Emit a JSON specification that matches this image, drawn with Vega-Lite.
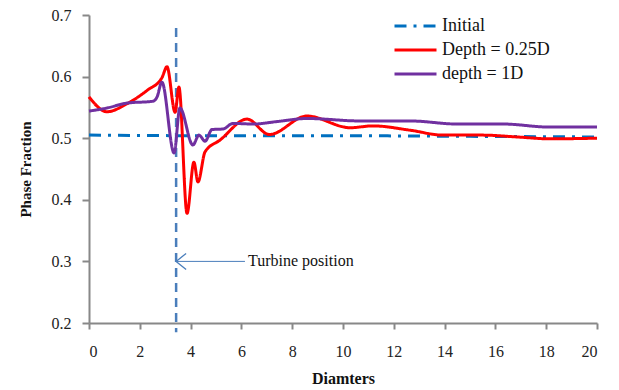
{
  "$schema": "https://vega.github.io/schema/vega-lite/v6.json",
  "width": 508,
  "height": 308,
  "autosize": "none",
  "padding": {"left": 89, "top": 15, "right": 22, "bottom": 67},
  "background": "white",
  "config": {
    "view": {"stroke": null},
    "font": "Liberation Serif, Times New Roman, serif"
  },
  "datasets": {
    "series": [
      {"x": 0, "y": 0.505, "s": "Initial"},
      {"x": 5, "y": 0.504, "s": "Initial"},
      {"x": 10, "y": 0.504, "s": "Initial"},
      {"x": 15, "y": 0.503, "s": "Initial"},
      {"x": 20, "y": 0.502, "s": "Initial"},

      {"x": 0, "y": 0.567, "s": "Depth = 0.25D"},
      {"x": 0.71, "y": 0.543, "s": "Depth = 0.25D"},
      {"x": 1.5, "y": 0.556, "s": "Depth = 0.25D"},
      {"x": 2.3, "y": 0.578, "s": "Depth = 0.25D"},
      {"x": 2.87, "y": 0.598, "s": "Depth = 0.25D"},
      {"x": 3.07, "y": 0.616, "s": "Depth = 0.25D"},
      {"x": 3.39, "y": 0.542, "s": "Depth = 0.25D"},
      {"x": 3.54, "y": 0.583, "s": "Depth = 0.25D"},
      {"x": 3.86, "y": 0.378, "s": "Depth = 0.25D"},
      {"x": 4.13, "y": 0.461, "s": "Depth = 0.25D"},
      {"x": 4.29, "y": 0.429, "s": "Depth = 0.25D"},
      {"x": 4.57, "y": 0.478, "s": "Depth = 0.25D"},
      {"x": 5.16, "y": 0.497, "s": "Depth = 0.25D"},
      {"x": 6.22, "y": 0.531, "s": "Depth = 0.25D"},
      {"x": 7.1, "y": 0.506, "s": "Depth = 0.25D"},
      {"x": 8.58, "y": 0.536, "s": "Depth = 0.25D"},
      {"x": 10.28, "y": 0.517, "s": "Depth = 0.25D"},
      {"x": 11.18, "y": 0.52, "s": "Depth = 0.25D"},
      {"x": 12.64, "y": 0.513, "s": "Depth = 0.25D"},
      {"x": 13.94, "y": 0.505, "s": "Depth = 0.25D"},
      {"x": 15.5, "y": 0.505, "s": "Depth = 0.25D"},
      {"x": 16.85, "y": 0.502, "s": "Depth = 0.25D"},
      {"x": 18.15, "y": 0.499, "s": "Depth = 0.25D"},
      {"x": 20, "y": 0.5, "s": "Depth = 0.25D"},

      {"x": 0, "y": 0.544, "s": "depth = 1D"},
      {"x": 0.7, "y": 0.549, "s": "depth = 1D"},
      {"x": 1.5, "y": 0.557, "s": "depth = 1D"},
      {"x": 2.52, "y": 0.56, "s": "depth = 1D"},
      {"x": 2.68, "y": 0.567, "s": "depth = 1D"},
      {"x": 2.87, "y": 0.591, "s": "depth = 1D"},
      {"x": 3.35, "y": 0.476, "s": "depth = 1D"},
      {"x": 3.58, "y": 0.549, "s": "depth = 1D"},
      {"x": 4.09, "y": 0.489, "s": "depth = 1D"},
      {"x": 4.33, "y": 0.505, "s": "depth = 1D"},
      {"x": 4.57, "y": 0.495, "s": "depth = 1D"},
      {"x": 4.84, "y": 0.514, "s": "depth = 1D"},
      {"x": 5.28, "y": 0.515, "s": "depth = 1D"},
      {"x": 5.67, "y": 0.524, "s": "depth = 1D"},
      {"x": 6.46, "y": 0.523, "s": "depth = 1D"},
      {"x": 7.4, "y": 0.527, "s": "depth = 1D"},
      {"x": 8.58, "y": 0.532, "s": "depth = 1D"},
      {"x": 10.67, "y": 0.528, "s": "depth = 1D"},
      {"x": 12.64, "y": 0.528, "s": "depth = 1D"},
      {"x": 14.5, "y": 0.523, "s": "depth = 1D"},
      {"x": 16.3, "y": 0.523, "s": "depth = 1D"},
      {"x": 18.15, "y": 0.518, "s": "depth = 1D"},
      {"x": 20, "y": 0.518, "s": "depth = 1D"}
    ],
    "turbine": [{"x": 3.43, "y": 0.679, "y2": 0.185}],
    "arrow": [{"x": 3.43, "x2": 6.14, "y": 0.3, "label": "Turbine position", "tx": 6.26}]
  },
  "layer": [
    {
      "data": {"name": "turbine"},
      "mark": {"type": "rule", "color": "#4a7ebb", "strokeWidth": 2.5, "strokeDash": [9, 6], "clip": false},
      "encoding": {
        "x": {"field": "x", "type": "quantitative", "scale": {"domain": [0, 20], "nice": false}},
        "y": {"field": "y", "type": "quantitative", "scale": {"domain": [0.2, 0.7], "nice": false}},
        "y2": {"field": "y2"}
      }
    },
    {
      "data": {"name": "series"},
      "mark": {"type": "line", "interpolate": "monotone", "strokeWidth": 3},
      "encoding": {
        "x": {
          "field": "x", "type": "quantitative",
          "scale": {"domain": [0, 20], "nice": false},
          "axis": {
            "title": "Diamters", "values": [0, 2, 4, 6, 8, 10, 12, 14, 16, 18, 20],
            "grid": false, "domainColor": "#888888", "domainWidth": 2, "tickColor": "#888888", "tickWidth": 2, "tickSize": 6,
            "labelFont": "Liberation Serif, Times New Roman, serif", "labelFontSize": 16, "labelColor": "#222222", "labelPadding": 14,
            "titleFont": "Liberation Serif, Times New Roman, serif", "titleFontSize": 16, "titleFontWeight": "bold", "titleColor": "#111111", "titlePadding": 11
          }
        },
        "y": {
          "field": "y", "type": "quantitative",
          "scale": {"domain": [0.2, 0.7], "nice": false},
          "axis": {
            "title": "Phase Fraction", "values": [0.2, 0.3, 0.4, 0.5, 0.6, 0.7], "format": ".1f",
            "grid": false, "domainColor": "#888888", "domainWidth": 2, "tickColor": "#888888", "tickWidth": 2, "tickSize": 7,
            "labelFont": "Liberation Serif, Times New Roman, serif", "labelFontSize": 16, "labelColor": "#222222", "labelPadding": 11,
            "titleFont": "Liberation Serif, Times New Roman, serif", "titleFontSize": 15, "titleFontWeight": "bold", "titleColor": "#111111", "titlePadding": 18
          }
        },
        "color": {
          "field": "s", "type": "nominal",
          "scale": {"domain": ["Initial", "Depth = 0.25D", "depth = 1D"], "range": ["#0070C0", "#FF0000", "#7030A0"]},
          "legend": {
            "title": null, "orient": "none", "legendX": 304, "legendY": -1,
            "symbolType": "M -1 0 H 3", "symbolSize": 441, "symbolStrokeWidth": 3,
            "labelFont": "Liberation Serif, Times New Roman, serif", "labelFontSize": 18, "labelColor": "#111111", "labelOffset": 25,
            "rowPadding": 3, "padding": 0
          }
        },
        "strokeDash": {
          "field": "s", "type": "nominal",
          "scale": {"domain": ["Initial", "Depth = 0.25D", "depth = 1D"], "range": [[12, 7, 3, 7], [1, 0], [1, 0]]},
          "legend": null
        }
      }
    },
    {
      "data": {"name": "arrow"},
      "mark": {"type": "rule", "color": "#4a7ebb", "strokeWidth": 1},
      "encoding": {
        "x": {"field": "x", "type": "quantitative"},
        "x2": {"field": "x2"},
        "y": {"field": "y", "type": "quantitative"}
      }
    },
    {
      "data": {"name": "arrow"},
      "mark": {"type": "point", "shape": "M 2 -1.6 L 0 0 L 2 1.6", "filled": false, "color": "#4a7ebb", "strokeWidth": 1.3, "size": 100, "opacity": 1},
      "encoding": {
        "x": {"field": "x", "type": "quantitative"},
        "y": {"field": "y", "type": "quantitative"}
      }
    },
    {
      "data": {"name": "arrow"},
      "mark": {"type": "text", "align": "left", "baseline": "middle", "font": "Liberation Serif, Times New Roman, serif", "fontSize": 16, "color": "#111111", "dx": 0},
      "encoding": {
        "x": {"field": "tx", "type": "quantitative"},
        "y": {"field": "y", "type": "quantitative"},
        "text": {"field": "label"}
      }
    }
  ]
}
